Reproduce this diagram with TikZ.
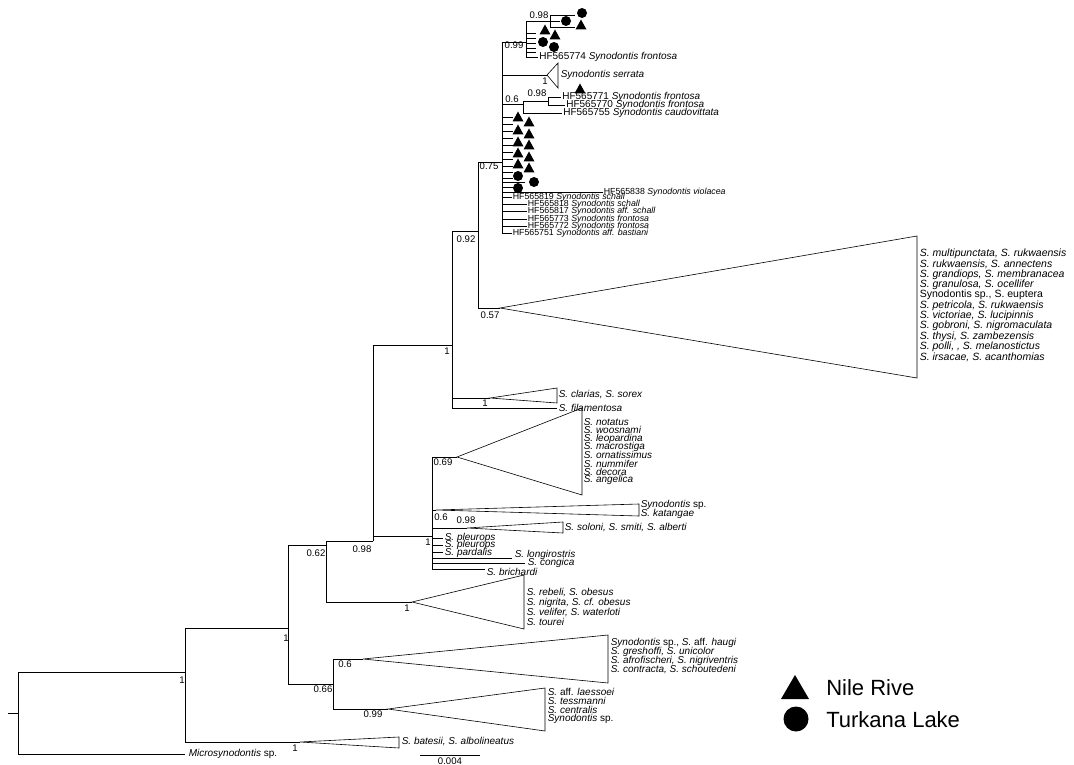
\documentclass[tikz,border=0pt]{standalone}
\usepackage{fontspec}
\setmainfont{Liberation Sans}
\newcommand{\nile}[1]{\fill (#1) ++(-5.5,4.5) -- ++(11,0) -- ++(-5.5,-10) -- cycle;}
\newcommand{\lake}[1]{\fill (#1) circle[radius=5pt];}
\begin{document}
\begin{tikzpicture}[x=1pt,y=-1pt,line width=0.6pt,
    tip/.style={anchor=west,inner sep=0.5pt,font=\fontsize{10}{10}\selectfont},
    big/.style={anchor=west,inner sep=1.5pt,font=\fontsize{10.5}{10.5}\selectfont},
    hf/.style={anchor=west,inner sep=1pt,font=\fontsize{10}{10}\selectfont},
    hfs/.style={anchor=west,inner sep=0.5pt,font=\fontsize{8.8}{8.8}\selectfont},
    supp/.style={inner sep=0pt,font=\fontsize{9.6}{9.6}\selectfont},
    legend/.style={anchor=west,inner sep=0pt,font=\fontsize{22}{22}\selectfont}]
  \useasboundingbox (0,0) rectangle (1074,765);
  % --- backbone nodes
  \coordinate (stub) at (8,713);
  \coordinate (root) at (18,713);
  \coordinate (nA) at (185,672);
  \coordinate (micro) at (185,754);
  \coordinate (nB) at (288,628);
  \coordinate (batA) at (300,742);
  \coordinate (nC) at (326,545);
  \coordinate (nD) at (333,684);
  \coordinate (nE) at (373,541);
  \coordinate (rebA) at (412,602);
  \coordinate (nF) at (452,345);
  \coordinate (nG) at (432,536);
  \coordinate (nH) at (478,231);
  \coordinate (clarA) at (490,398);
  \coordinate (fila) at (557,408);
  \coordinate (nI) at (502,162);
  \coordinate (bigA) at (500,308);
  \coordinate (hauA) at (363,659);
  \coordinate (laeA) at (388,709);
  % --- middle nodes
  \coordinate (ornA) at (457,457);
  \coordinate (katA) at (436,510);
  \coordinate (solA) at (467,528);
  \coordinate (pleu1) at (443,538);
  \coordinate (pleu2) at (443,545);
  \coordinate (pard) at (443,552);
  \coordinate (longi) at (512,558);
  \coordinate (cong) at (525,563);
  \coordinate (brich) at (485,569);
  % --- top cluster
  \coordinate (nJ) at (526,42);
  \coordinate (nK) at (550,21);
  \coordinate (serA) at (547,75);
  \coordinate (nL) at (523,104);
  \coordinate (nM) at (548,101);
  \coordinate (viol) at (603,192);
  \coordinate (hf774) at (538,57);
  \coordinate (hf771) at (561,97);
  \coordinate (hf770) at (565,105);
  \coordinate (hf755) at (562,113);
  \coordinate (hf819) at (512,197);
  \coordinate (hf818) at (527,204);
  \coordinate (hf817) at (527,211);
  \coordinate (hf773) at (527,219);
  \coordinate (hf772) at (527,226);
  \coordinate (hf751) at (512,233);
  \coordinate (kA) at (575,15);
  \coordinate (kB) at (560,21);
  \coordinate (kC) at (575,27);
  \coordinate (colL) at (525,182);

  % --- branches
  \draw (stub) -- (root);
  \foreach \p/\c in {root/nA,root/micro,nA/nB,nA/batA,nB/nC,nB/nD,nC/nE,nC/rebA,
      nE/nF,nE/nG,nF/nH,nF/clarA,nF/fila,nH/nI,nH/bigA,nD/hauA,nD/laeA,
      nG/ornA,nG/katA,nG/solA,nG/pleu1,nG/pleu2,nG/pard,nG/longi,nG/cong,nG/brich,
      nI/nJ,nI/serA,nI/nL,nI/viol,nI/colL,nI/hf819,nI/hf818,nI/hf817,nI/hf773,nI/hf772,nI/hf751,
      nJ/nK,nJ/hf774,nK/kA,nK/kB,nK/kC,nL/nM,nL/hf755,nM/hf771,nM/hf770}
    {\draw (\p) |- (\c);}
  \foreach \y in {33,38,43,48,52}
    {\draw (526,\y) -- (536,\y);}
  \foreach \y in {117,124,131,138,145,152,159,166,172,178,187}
    {\draw (502,\y) -- (513,\y);}

  % --- collapsed clades
  \draw (bigA) -- (917,236) -- (917,378) -- cycle;
  \draw (clarA) -- (557,388) -- (557,403) -- cycle;
  \draw (serA) -- (558,63) -- (558,88) -- cycle;
  \draw (ornA) -- (582,408) -- (582,495) -- cycle;
  \draw (katA) -- (639,504) -- (639,516) -- cycle;
  \draw (solA) -- (563,522) -- (563,533) -- cycle;
  \draw (rebA) -- (524,575) -- (524,629) -- cycle;
  \draw (hauA) -- (608,635) -- (608,683) -- cycle;
  \draw (laeA) -- (545,688) -- (545,731) -- cycle;
  \draw (batA) -- (399,737) -- (399,748) -- cycle;

  % --- Nile / Turkana samples
  \foreach \x/\y in {581/25,545/30,555/35,580/89,518/117,529/122,518/130,529/134,
      518/142,529/145,518/153,529/157,518/164,529/168}
    {\nile{\x,\y}}
  \foreach \x/\y in {582/13,566/21,543/42,554/47,518/176,534/182,518/188}
    {\lake{\x,\y}}

  % --- tip labels, top cluster
  \node[hf] at (hf774) {HF565774 \textit{Synodontis frontosa}};
  \node[tip] at (560,75) {\textit{Synodontis serrata}};
  \node[hf] at (hf771) {HF565771 \textit{Synodontis frontosa}};
  \node[hf] at (hf770) {HF565770 \textit{Synodontis frontosa}};
  \node[hf] at (hf755) {HF565755 \textit{Synodontis caudovittata}};
  \node[hfs] at (viol) {HF565838 \textit{Synodontis violacea}};
  \node[hfs] at (hf819) {HF565819 \textit{Synodontis schall}};
  \node[hfs] at (hf818) {HF565818 \textit{Synodontis schall}};
  \node[hfs] at (hf817) {HF565817 \textit{Synodontis aff. schall}};
  \node[hfs] at (hf773) {HF565773 \textit{Synodontis frontosa}};
  \node[hfs] at (hf772) {HF565772 \textit{Synodontis frontosa}};
  \node[hfs] at (hf751) {HF565751 \textit{Synodontis aff. bastiani}};

  % --- tip labels, big clade
  \foreach \t [count=\i from 0] in {\textit{S. multipunctata, S. rukwaensis},
      \textit{S. rukwaensis, S. annectens},\textit{S. grandiops, S. membranacea},
      \textit{S. granulosa, S. ocellifer},{Synodontis sp., S. euptera},
      \textit{S. petricola, S. rukwaensis},\textit{S. victoriae, S. lucipinnis},
      \textit{S. gobroni, S. nigromaculata},\textit{S. thysi, S. zambezensis},
      \textit{S. polli, , S. melanostictus},\textit{S. irsacae, S. acanthomias}}
    {\node[big] at (918,254+10.3*\i) {\t};}
  \node[tip] at (558,395) {\textit{S. clarias, S. sorex}};
  \node[tip] at (558,408) {\textit{S. filamentosa}};
  \foreach \t [count=\i from 0] in {notatus,woosnami,leopardina,macrostiga,
      ornatissimus,nummifer,decora,angelica}
    {\node[tip] at (583,422+8.3*\i) {\textit{S. \t}};}
  \node[tip] at (640,505) {\textit{Synodontis} sp.};
  \node[tip] at (640,514) {\textit{S. katangae}};
  \node[tip] at (564,528) {\textit{S. soloni, S. smiti, S. alberti}};
  \node[tip] at (444,537.5) {\textit{S. pleurops}};
  \node[tip] at (444,545) {\textit{S. pleurops}};
  \node[tip] at (444,552.5) {\textit{S. pardalis}};
  \node[tip] at (514,554.5) {\textit{S. longirostris}};
  \node[tip] at (527,563) {\textit{S. congica}};
  \node[tip] at (486,572) {\textit{S. brichardi}};
  \foreach \t [count=\i from 0] in {{S. rebeli, S. obesus},{S. nigrita, S. cf. obesus},
      {S. velifer, S. waterloti},{S. tourei}}
    {\node[tip] at (526,593+9.7*\i) {\textit{\t}};}
  \node[tip] at (610,643) {\textit{Synodontis} sp., \textit{S.} aff. \textit{haugi}};
  \node[tip] at (610,652) {\textit{S. greshoffi, S. unicolor}};
  \node[tip] at (610,661) {\textit{S. afrofischeri, S. nigriventris}};
  \node[tip] at (610,670) {\textit{S. contracta, S. schoutedeni}};
  \node[tip] at (547,692) {\textit{S.} aff. \textit{laessoei}};
  \node[tip] at (547,701) {\textit{S. tessmanni}};
  \node[tip] at (547,710) {\textit{S. centralis}};
  \node[tip] at (547,719) {\textit{Synodontis} sp.};
  \node[tip] at (401,742) {\textit{S. batesii, S. albolineatus}};
  \node[tip] at (188,754) {\textit{Microsynodontis} sp.};

  % --- support values
  \foreach \x/\y/\v in {539/15/0.98,514/45/0.99,545/81/1,512/99/0.6,537/93/0.98,
      489/166/0.75,466/239/0.92,490/315/0.57,447/351/1,485/403/1,362/549/0.98,
      443/462/0.69,441/517/0.6,466/520/0.98,428/542/1,316/553/0.62,407/608/1,
      286/638/1,345/664/0.6,323/689/0.66,373/714/0.99,182/680/1,295/748/1}
    {\node[supp] at (\x,\y) {\v};}

  % --- scale bar
  \coordinate (sbL) at (420,755);
  \coordinate (sbR) at (480,755);
  \draw (sbL) -- (sbR) node[midway,below=2pt,supp] {0.004};

  % --- legend
  \fill (795,688) ++(-14,11) -- ++(28,0) -- ++(-14,-24) -- cycle;
  \node[legend] (nileTxt) at (826,688) {Nile Rive};
  \fill (796,719) circle[radius=12.5pt];
  \node[legend] (lakeTxt) at (826,720) {Turkana Lake};
\end{tikzpicture}
\end{document}
